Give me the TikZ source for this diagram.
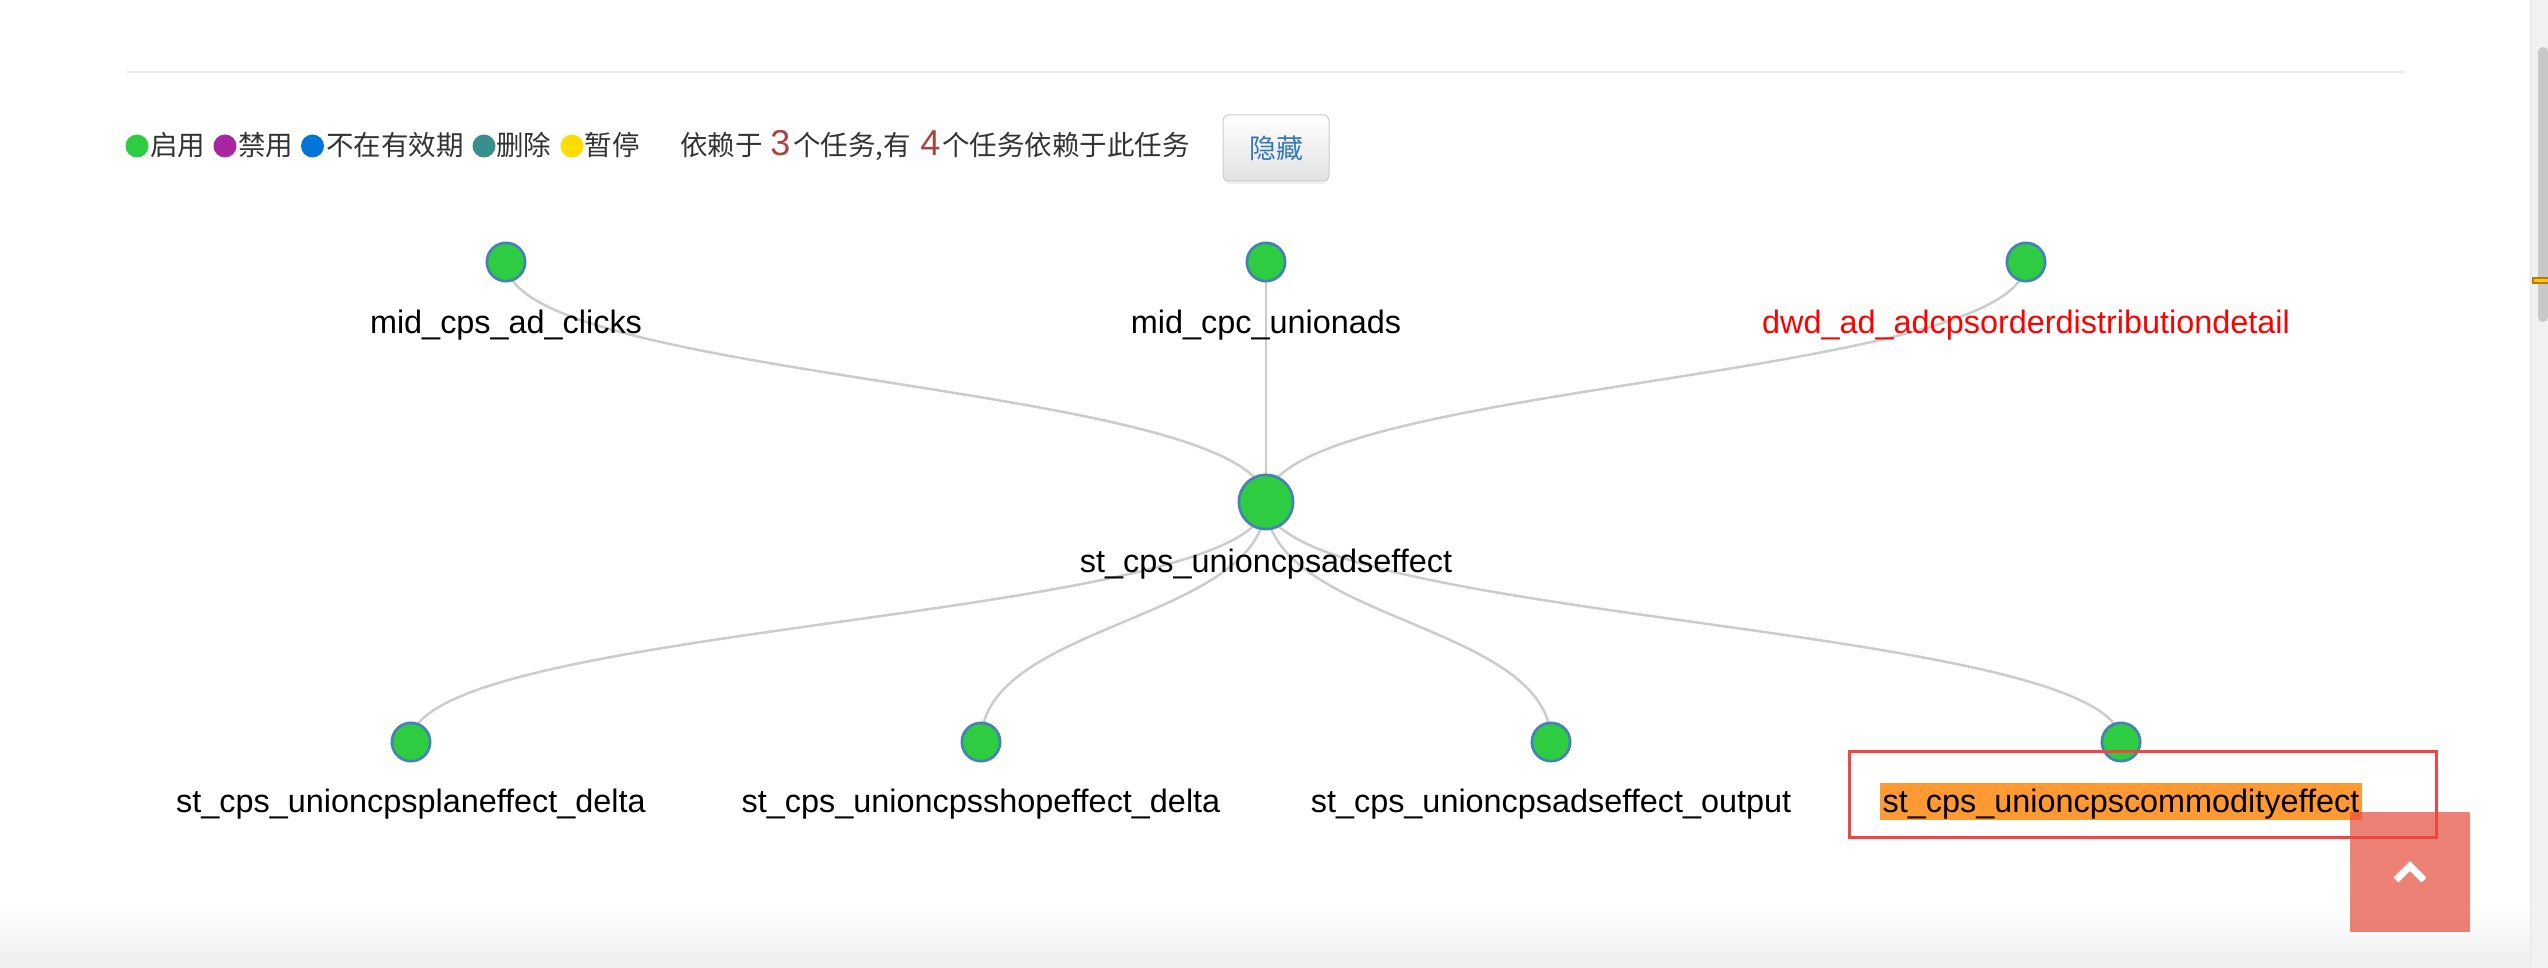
\documentclass[tikz,border=0pt]{standalone}
\usepackage{fontspec}
\setmainfont{Liberation Sans}
\newfontfamily\cjk{Noto Sans CJK SC}
\usetikzlibrary{calc}
\pgfdeclarelayer{back}
\pgfdeclarelayer{bg}
\pgfsetlayers{back,bg,main}
\definecolor{nodegreen}{RGB}{46,204,64}
\definecolor{nodeblue}{RGB}{70,130,180}
\definecolor{edgegray}{RGB}{204,204,204}
\definecolor{lgpurple}{RGB}{170,38,160}
\definecolor{lgblue}{RGB}{0,116,217}
\definecolor{lgteal}{RGB}{57,142,142}
\definecolor{lgyellow}{RGB}{255,220,0}
\definecolor{txtgray}{RGB}{51,51,51}
\definecolor{numred}{RGB}{169,68,66}
\definecolor{btnblue}{RGB}{51,122,183}
\definecolor{btnborder}{RGB}{204,204,204}
\definecolor{btnbottom}{RGB}{226,226,226}
\definecolor{hlorange}{RGB}{255,153,51}
\definecolor{boxred}{RGB}{242,70,70}
\definecolor{topbtn}{RGB}{231,76,60}
\definecolor{sepgray}{RGB}{236,236,236}
\definecolor{sbbg}{RGB}{241,241,241}
\definecolor{sbline}{RGB}{230,230,230}
\definecolor{sbthumb}{RGB}{200,200,200}
\definecolor{markdark}{RGB}{184,120,11}
\definecolor{marklight}{RGB}{255,200,0}
\definecolor{shadowgray}{RGB}{238,238,238}
\definecolor{labelred}{RGB}{255,0,0}
\begin{document}
\begin{tikzpicture}[x=0.5pt,y=-0.5pt,
  task/.style={circle,draw=nodeblue,fill=nodegreen,line width=1.35pt,inner sep=0pt,minimum size=19.15pt},
  root/.style={task,minimum size=27.15pt},
  tlabel/.style={anchor=base,inner sep=0pt,font=\fontsize{16.2pt}{19pt}\selectfont},
  edge/.style={draw=edgegray,line width=1.25pt},
  lgdot/.style={circle,inner sep=0pt,minimum size=11.5pt},
  lgtext/.style={anchor=base west,inner sep=0pt,text=txtgray,font=\cjk\fontsize{13.75pt}{16pt}\selectfont},
  num/.style={anchor=base west,inner sep=0pt,text=numred,font=\fontsize{18pt}{20pt}\selectfont}
]
\useasboundingbox (0,0) rectangle (2548,968);
\begin{pgfonlayer}{back}
\fill[white] (0,0) rectangle (2548,968);
% bottom card shadow
\shade[top color=white,bottom color=shadowgray] (0,905) rectangle (2530,968);
% scrollbar area
\fill[sbbg] (2531,0) rectangle (2548,968);
\draw[sbline,line width=0.6pt] (2530.5,0) -- (2530.5,968);
\fill[sbthumb,rounded corners=2.5pt] (2538,47) rectangle (2548,322);
\fill[markdark] (2532,277) rectangle (2548,284);
\fill[marklight] (2534,279) rectangle (2548,282);
% separator
\draw[sepgray,line width=1pt] (127,72) -- (2406,72);
\end{pgfonlayer}

% legend
\node[lgdot,fill=nodegreen] (dg) at (137,146) {};
\node[lgtext] (lg1) at (150,156) {启用};
\node[lgdot,fill=lgpurple] (dp) at (225,146) {};
\node[lgtext] (lg2) at (238,156) {禁用};
\node[lgdot,fill=lgblue] (db) at (312.5,146) {};
\node[lgtext] (lg3) at (325.6,156) {不在有效期};
\node[lgdot,fill=lgteal] (dt) at (484,146) {};
\node[lgtext] (lg4) at (496,156) {删除};
\node[lgdot,fill=lgyellow] (dy) at (572,146) {};
\node[lgtext] (lg5) at (584.5,156) {暂停};
\node[lgtext] (dep1) at (680,156) {依赖于};
\node[num] (n3) at (770,156) {3};
\node[lgtext] (dep2) at (793,156) {个任务,有};
\node[num] (n4) at (920,156) {4};
\node[lgtext] (dep3) at (942,156) {个任务依赖于此任务};
% hide button
\fill[black,opacity=0.06,rounded corners=3pt] (1223,118) rectangle (1329,184);
\node[draw=btnborder,line width=0.5pt,rounded corners=3pt,top color=white,bottom color=btnbottom,
      minimum width=53pt,minimum height=33pt,inner sep=0pt,text=btnblue,
      font=\cjk\fontsize{13.5pt}{16pt}\selectfont] (hide) at (1276,148) {隐藏};

% tree nodes
\node[task] (t1) at (506,262) {};
\node[task] (t2) at (1266,262) {};
\node[task] (t3) at (2026,262) {};
\node[root] (c) at (1266,502) {};
\node[task] (b1) at (411,742) {};
\node[task] (b2) at (981,742) {};
\node[task] (b3) at (1551,742) {};
\node[task] (b4) at (2121,742) {};

% labels
\node[tlabel] (lt1) at (506,333) {mid\_cps\_ad\_clicks};
\node[tlabel] (lt2) at (1266,333) {mid\_cpc\_unionads};
\node[tlabel,text=labelred] (lt3) at (2026,333) {dwd\_ad\_adcpsorderdistributiondetail};
\node[tlabel] (lc) at (1266,572) {st\_cps\_unioncpsadseffect};
\node[tlabel] (lb1) at (411,812) {st\_cps\_unioncpsplaneffect\_delta};
\node[tlabel] (lb2) at (981,812) {st\_cps\_unioncpsshopeffect\_delta};
\node[tlabel] (lb3) at (1551,812) {st\_cps\_unioncpsadseffect\_output};
\node[tlabel] (lb4) at (2121,812) {st\_cps\_unioncpscommodityeffect};

% edges and highlight behind nodes and labels
\begin{pgfonlayer}{bg}
  \coordinate (mT) at (0,382);
  \coordinate (mB) at (0,622);
  \foreach \s in {t1,t2,t3}
    \draw[edge] (\s.center) .. controls (\s.center |- mT) and (c.center |- mT) .. (c.center);
  \foreach \s in {b1,b2,b3,b4}
    \draw[edge] (c.center) .. controls (c.center |- mB) and (\s.center |- mB) .. (\s.center);
  \fill[hlorange] ($(lb4.base)+(-241,-29)$) rectangle ++(482,37);
\end{pgfonlayer}

% selection frame
\draw[boxred,line width=1.5pt] (1849,751) rectangle (2436,837);
% back-to-top button
\fill[topbtn,opacity=0.7] (2350,812) rectangle (2470,932);
\draw[white,line width=3.5pt] (2396,880) -- (2410,866) -- (2424,880);
\end{tikzpicture}
\end{document}
